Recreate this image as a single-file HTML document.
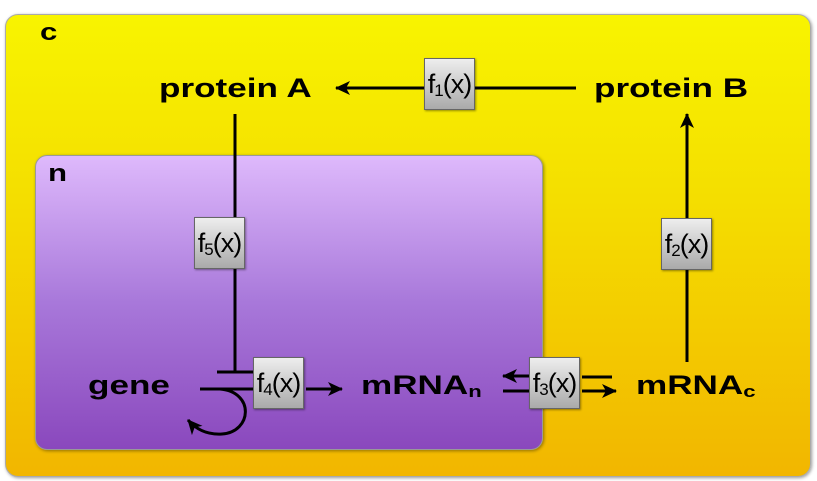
<!DOCTYPE html>
<html><head><style>
body{margin:0;width:817px;height:481px;background:#fff;position:relative;overflow:hidden;font-family:"Liberation Sans",sans-serif}
.outer{position:absolute;left:5px;top:14px;width:804px;height:461px;border-radius:13px;background:linear-gradient(#f8f400,#f4de00 40%,#f2b600);border:1px solid #aaa;box-shadow:1px 1px 3px rgba(0,0,0,.4)}
.inner{position:absolute;left:35px;top:155px;width:506px;height:293px;border-radius:12px;background:linear-gradient(#deb9fc,#a878da 50%,#8a48bd);border:1px solid #999;box-shadow:1px 1px 3px rgba(0,0,0,.4)}
.t{position:absolute;font-weight:bold;font-size:27px;color:#000;white-space:nowrap;transform:scaleX(1.3);transform-origin:0 0}
.f{position:absolute;width:49px;height:50px;background:linear-gradient(#eee,#aaa);border:1px solid #666;font-size:27px;text-align:center;line-height:50px;box-shadow:1px 1px 2px rgba(0,0,0,.4);letter-spacing:-1px;overflow:hidden}
sub{font-size:17px;vertical-align:-3px}
</style></head><body>
<div class="outer"></div><div class="inner"></div>
<svg style="position:absolute;left:0;top:0" width="817" height="481">
<defs>
<marker id="b" markerWidth="16" markerHeight="16" refX="14" refY="8" orient="auto" markerUnits="userSpaceOnUse"><path d="M0,1 L15,8 L0,15 L4,8Z" fill="#000"/></marker></defs>
<g stroke="#000" stroke-width="3" fill="none">
<line x1="576" y1="88" x2="336" y2="88" marker-end="url(#b)"/>
<line x1="235" y1="114" x2="235" y2="372"/>
<line x1="217" y1="372" x2="254" y2="372"/>
<line x1="200" y1="389" x2="254" y2="389"/>
<path d="M220,389 C255,392 252,432 222,434 C205,435 195,428 188,420" marker-end="url(#b)"/>
<line x1="306" y1="389" x2="342" y2="389" marker-end="url(#b)"/>
<line x1="530" y1="376" x2="503" y2="376" marker-end="url(#b)"/>
<line x1="503" y1="391" x2="530" y2="391"/>
<line x1="582" y1="377" x2="612" y2="377"/>
<line x1="582" y1="391" x2="616" y2="391" marker-end="url(#b)"/>
<line x1="687" y1="362" x2="687" y2="114" marker-end="url(#b)"/>
</g></svg>
<div class="t" style="left:40px;top:19px;font-size:24px">c</div>
<div class="t" style="left:48px;top:160px;font-size:24px">n</div>
<div class="t" style="left:159px;top:73px">protein A</div>
<div class="t" style="left:594px;top:73px">protein B</div>
<div class="t" style="left:88px;top:370px">gene</div>
<div class="t" style="left:361px;top:370px">mRNA<sub>n</sub></div>
<div class="t" style="left:636px;top:370px">mRNA<sub>c</sub></div>
<div class="f" style="left:424px;top:58px">f<sub>1</sub>(x)</div>
<div class="f" style="left:194px;top:217px">f<sub>5</sub>(x)</div>
<div class="f" style="left:661px;top:218px">f<sub>2</sub>(x)</div>
<div class="f" style="left:253px;top:357px">f<sub>4</sub>(x)</div>
<div class="f" style="left:529px;top:357px">f<sub>3</sub>(x)</div>
</body></html>
